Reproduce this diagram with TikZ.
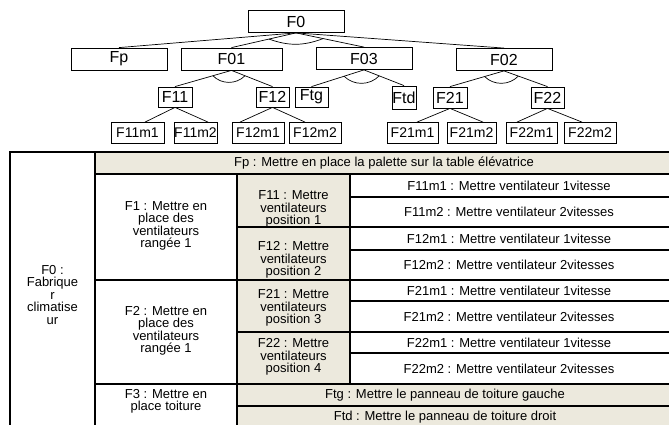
\documentclass[tikz,border=0pt]{standalone}
\usepackage{fontspec}
\setmainfont{Liberation Sans}
\usetikzlibrary{calc}
\definecolor{beige}{RGB}{236,233,221}

\begin{document}
\begin{tikzpicture}[x=1pt,y=-1pt,
    box/.style={draw,line width=0.8,inner sep=0,minimum height=22,
      font=\fontsize{16}{16}\selectfont},
    leaf/.style={draw,line width=0.8,inner sep=0,minimum height=21,
      font=\fontsize{14}{14}\selectfont},
    link/.style={line width=0.7},
    cell/.style={align=center,inner sep=0,font=\fontsize{13}{12.5}\selectfont},
    grid/.style={line width=1.8}]
  \useasboundingbox (0,0) rectangle (669,425);
  \clip (0,0) rectangle (669,425);

  % arbre
  \node[box,minimum width=96] (F0) at (296,21.5) {F0};
  \node[box,minimum width=96] (Fp) at (119,59) {Fp};
  \node[box,minimum width=101] (F01) at (231.5,59) {F01};
  \node[box,minimum width=96] (F03) at (364,58.5) {F03};
  \node[box,minimum width=96] (F02) at (504,59.5) {F02};
  \node[box,minimum width=34,minimum height=20] (F11) at (175,97) {F11};
  \node[box,minimum width=33,minimum height=20] (F12) at (272.5,97) {F12};
  \node[box,minimum width=33,minimum height=20] (Ftg) at (311.5,97) {Ftg};
  \node[box,minimum width=24,minimum height=23] (Ftd) at (404,97.5) {Ftd};
  \node[box,minimum width=34,minimum height=21] (F21) at (450,97.5) {F21};
  \node[box,minimum width=33,minimum height=21] (F22) at (547.5,97.5) {F22};
  \node[leaf,minimum width=53] (F11m1) at (137.5,133) {F11m1};
  \node[leaf,minimum width=43] (F11m2) at (195.5,133) {F11m2};
  \node[leaf,minimum width=52] (F12m1) at (258,133) {F12m1};
  \node[leaf,minimum width=52] (F12m2) at (315,133) {F12m2};
  \node[leaf,minimum width=51] (F21m1) at (412.5,133) {F21m1};
  \node[leaf,minimum width=49] (F21m2) at (471.5,133) {F21m2};
  \node[leaf,minimum width=51] (F22m1) at (531.5,133) {F22m1};
  \node[leaf,minimum width=52] (F22m2) at (590,133) {F22m2};

  \foreach \c in {Fp,F01,F03,F02}
    \draw[link] (F0.south) -- (\c.north);
  \foreach \p/\a/\b in {F01/F11/F12,F03/Ftg/Ftd,F02/F21/F22}
    \draw[link] (\a.north) -- (\p.south) -- (\b.north);
  \draw[link] ([xshift=7.5]F11m1.north) -- (F11.south) -- ([xshift=12.5]F11m2.north);
  \draw[link] ([xshift=-18]F12m1.north) -- (F12.south) -- ([xshift=-10]F12m2.north);
  \draw[link] ([xshift=4.5]F21m1.north) -- (F21.south) -- ([xshift=11.5]F21m2.north);
  \draw[link] ([xshift=-14.5]F22m1.north) -- (F22.south) -- ([xshift=-8]F22m2.north);

  \draw[link] ($(F0.south)!0.42!(F01.north)$) to[bend right=20] ($(F0.south)!0.4!(F03.north)$);
  \draw[link] ($(F01.south)!0.33!(F11.north)$) to[bend right=45] ($(F01.south)!0.33!(F12.north)$);
  \draw[link] ($(F03.south)!0.38!(Ftg.north)$) to[bend right=45] ($(F03.south)!0.38!(Ftd.north)$);
  \draw[link] ($(F02.south)!0.36!(F21.north)$) to[bend right=45] ($(F02.south)!0.33!(F22.north)$);

  % tableau
  \fill[beige] (95,152) rectangle (672,174);
  \fill[beige] (237,174) rectangle (350,384);
  \fill[beige] (237,384) rectangle (672,430);
  \draw[grid] (10,430) -- (10,152) -- (672,152);
  \draw[grid] (95,152) -- (95,430);
  \draw[grid] (237,174) -- (237,430);
  \draw[grid] (350,174) -- (350,384);
  \foreach \y in {174,280,384}
    \draw[grid] (95,\y) -- (672,\y);
  \foreach \y in {227,332,406}
    \draw[grid] (237,\y) -- (672,\y);
  \foreach \y in {197,250,301,353}
    \draw[grid] (350,\y) -- (672,\y);

  \node[cell] (tF0) at (52.5,295) {F0 :\\Fabrique\\r\\climatise\\ur};
  \node[cell] (tF1) at (166,226) {F1 : Mettre en\\place des\\ventilateurs\\rangée 1};
  \node[cell] (tF2) at (166,331) {F2 : Mettre en\\place des\\ventilateurs\\rangée 1};
  \node[cell] (tF3) at (166,401.5) {F3 : Mettre en\\place toiture};
  \node[cell] (tF11) at (293.5,209) {F11 : Mettre\\ventilateurs\\position 1};
  \node[cell] (tF12) at (293.5,260) {F12 : Mettre\\ventilateurs\\position 2};
  \node[cell] (tF21) at (293.5,308) {F21 : Mettre\\ventilateurs\\position 3};
  \node[cell] (tF22) at (293.5,357) {F22 : Mettre\\ventilateurs\\position 4};
  \node[cell] (tFp) at (384,163) {Fp : Mettre en place la palette sur la table élévatrice};
  \node[cell] (tF11m1) at (509,185.5) {F11m1 : Mettre ventilateur 1vitesse};
  \node[cell] (tF11m2) at (509,212) {F11m2 : Mettre ventilateur 2vitesses};
  \node[cell] (tF12m1) at (509,238.5) {F12m1 : Mettre ventilateur 1vitesse};
  \node[cell] (tF12m2) at (509,265) {F12m2 : Mettre ventilateur 2vitesses};
  \node[cell] (tF21m1) at (509,290.5) {F21m1 : Mettre ventilateur 1vitesse};
  \node[cell] (tF21m2) at (509,316.5) {F21m2 : Mettre ventilateur 2vitesses};
  \node[cell] (tF22m1) at (509,342.5) {F22m1 : Mettre ventilateur 1vitesse};
  \node[cell] (tF22m2) at (509,368.5) {F22m2 : Mettre ventilateur 2vitesses};
  \node[cell] (tFtg) at (445,395) {Ftg : Mettre le panneau de toiture gauche};
  \node[cell] (tFtd) at (445,417) {Ftd : Mettre le panneau de toiture droit};
\end{tikzpicture}
\end{document}
